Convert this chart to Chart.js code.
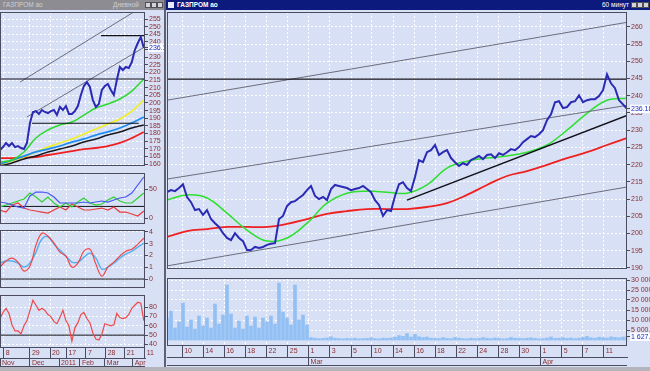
<!DOCTYPE html>
<html lang="ru">
<head>
<meta charset="UTF-8">
<title>ГАЗПРОМ ао - 60 минут</title>
<script src="https://cdn.jsdelivr.net/npm/chart.js"></script>
<style>
    body {
        margin: 0;
        width: 650px;
        height: 371px;
        overflow: hidden;
        position: relative;
        background: #b4b4bc;
        font-family: "Liberation Sans", Arial, sans-serif;
    }
    .panel { position: absolute; background: #d8e0f6; }
    .pane { position: absolute; }
    .pane canvas { display: block; }
    .title {
        position: absolute; top: 0; height: 10px;
        font-size: 6.5px; line-height: 10px; white-space: nowrap; overflow: hidden;
    }
    .title span { position: absolute; }
    .btn { top: 2px; width: 6px; height: 6px; background: #d4d4d8; border: 1px solid #505058; box-sizing: border-box; }
</style>
</head>
<body>
<div class="panel" style="left:0; top:10px; width:164px; height:357px;"></div>
<div class="panel" style="left:166px; top:10px; width:484px; height:357px;"></div>
<div style="position:absolute; left:164px; top:0; width:2px; height:367px; background:#606070;"></div>

<!-- title bars -->
<div class="title" style="left:0; width:164px; background:#8c8c92; color:#cfcfd4;">
    <span style="left:3px;">ГАЗПРОМ ао</span>
    <span style="left:113px;">Дневной</span>
    <span class="btn" style="left:145px;"></span>
    <span class="btn" style="left:151px;"></span>
    <span class="btn" style="left:157px;"></span>
</div>
<div class="title" style="left:166px; width:484px; background:#0c1a7e; color:#ffffff;">
    <span style="left:2px; top:2px; width:6px; height:6px; background:#e8ecff;"></span>
    <span style="left:11px; font-weight:bold;">ГАЗПРОМ ао</span>
    <span style="left:436px;">60 минут</span>
    <span class="btn" style="left:465px;"></span>
    <span class="btn" style="left:471px;"></span>
    <span class="btn" style="left:477px;"></span>
</div>

<div class="pane" style="left:0; top:11px;"><canvas id="dayPrice" width="164" height="157"></canvas></div>
<div class="pane" style="left:0; top:171px;"><canvas id="dayAdx" width="164" height="55"></canvas></div>
<div class="pane" style="left:0; top:228px;"><canvas id="dayMacd" width="164" height="62"></canvas></div>
<div class="pane" style="left:0; top:293px;"><canvas id="dayRsi" width="164" height="75"></canvas></div>
<div class="pane" style="left:165px; top:10px;"><canvas id="hourPrice" width="485" height="262"></canvas></div>
<div class="pane" style="left:165px; top:274px;"><canvas id="hourVolume" width="485" height="95"></canvas></div>

<script>
    // ---- left panel: daily bars, one step = about 3 px ----
    const dayTickIdx = [1.3, 10, 16.7, 22.2, 28.7, 35.3, 41.7, 48.3];
    const dayTickLabels = ['8', '29', '20', '17', '7', '28', '21', '11'];
    const dayMonthIdx = [0, 10, 19.7, 26.7, 35, 44.3];
    const dayMonthLabels = ['Nov', 'Dec', '2011', 'Feb', 'Mar', 'Apr'];

    const dayClose = [169.2, 171.1, 173.8, 171.8, 173.8, 171.1, 171.8, 170.5, 169.8, 173.8,
        186.9, 194.1, 194.7, 192.8, 195.4, 194.1, 193.4, 194.7, 195.4, 192.1,
        197.4, 195.4, 198.0, 192.8, 192.8, 194.7, 198.0, 205.2, 211.1, 213.7,
        210.5, 201.9, 197.4, 199.3, 208.5, 211.1, 212.4, 208.5, 205.2, 215.0,
        223.6, 221.6, 223.6, 222.9, 226.8, 234.7, 239.3, 243.2, 236.2];
    const dayLast = 236.18;

    // moving averages, every 4th step
    const dayMaIdx = [0, 4, 8, 12, 16, 20, 24, 28, 32, 36, 40, 44, 48];
    const dayGreen = [161.3, 162.6, 167.9, 177.0, 182.3, 185.6, 187.5, 192.1, 196.7, 199.3, 202.6, 207.8, 215.7];
    const dayYellow = [159.3, 162.0, 164.6, 167.9, 171.1, 173.8, 176.4, 179.7, 182.9, 186.2, 189.5, 194.7, 201.9];
    const dayBlue = [160.0, 162.6, 165.2, 167.9, 169.8, 171.8, 174.4, 176.4, 179.0, 181.0, 183.6, 186.9, 190.8];
    const dayBlack = [158.7, 160.7, 163.3, 165.2, 167.9, 169.8, 171.8, 174.4, 176.4, 179.0, 181.0, 183.6, 185.6];
    const dayRed = [163.9, 163.9, 164.3, 164.6, 165.9, 167.2, 168.5, 169.8, 170.5, 171.8, 173.8, 177.0, 181.0];

    // drawn lines on the daily chart
    const dayUpperIdx = [6.7, 44.3];
    const dayUpper = [213.7, 259.2];
    const dayLowerIdx = [9, 48.3];
    const dayLower = [190.8, 236.7];
    const dayLevelAIdx = [0, 48.4];
    const dayLevelA = [215.7, 215.7];
    const dayLevelBIdx = [33.7, 48.4];
    const dayLevelB = [244.1, 244.1];
    const dayLevelCIdx = [10.7, 46.3];
    const dayLevelC = [186.7, 186.7];

    // oscillators, every 2nd step
    const adxBlue = [27.6, 25.9, 22.4, 19.0, 17.2, 37.9, 44.8, 44.8, 43.1, 36.2, 25.9, 25.9, 25.9,
        25.9, 27.6, 25.9, 27.6, 29.3, 27.6, 31.0, 34.5, 36.2, 43.1, 56.9, 70.7];
    const adxGreen = [19.0, 22.4, 25.9, 29.3, 32.8, 43.1, 36.2, 27.6, 36.2, 25.9, 19.0, 25.9, 19.0,
        27.6, 34.5, 25.9, 22.4, 24.1, 31.0, 36.2, 29.3, 25.9, 25.9, 34.5, 43.1];
    const adxRed = [13.8, 10.3, 22.4, 25.9, 17.2, 13.8, 12.1, 10.3, 8.6, 13.8, 19.0, 13.8, 24.1,
        19.0, 13.8, 13.8, 15.5, 17.2, 13.8, 19.0, 10.3, 10.3, 6.9, 3.4, 12.1];
    const adxLevel = 20;

    const macdRed = [1.02, 1.53, 1.78, 1.44, 0.68, 1.10, 2.88, 3.90, 3.64, 3.05, 2.29, 1.95, 1.02,
        1.36, 2.37, 2.54, 1.27, 0.25, 1.02, 1.44, 1.95, 2.37, 2.54, 2.97, 3.47];
    const macdBlue = [1.36, 1.53, 1.53, 1.36, 1.02, 1.36, 2.29, 3.40, 3.60, 2.97, 2.46, 1.95, 1.44,
        1.44, 1.86, 2.20, 1.78, 0.85, 1.02, 1.36, 1.78, 2.12, 2.37, 2.71, 3.05];

    const rsi = [67.7, 74.2, 78.6, 73.1, 61.1, 54.5, 54.5, 51.3, 60.0, 65.5,
        76.4, 87.3, 81.9, 76.4, 78.6, 76.4, 72.0, 69.8, 64.4, 62.2,
        68.7, 76.4, 65.5, 60.0, 43.6, 57.8, 63.3, 72.0, 74.2, 67.7,
        63.3, 52.3, 45.8, 44.7, 51.3, 62.2, 61.1, 60.0, 61.1, 73.1,
        68.7, 67.7, 68.7, 72.0, 78.6, 81.9, 85.1, 84.0, 65.5];
    const rsiLevel = 50;

    const dayPriceTicks = [160, 165, 170, 175, 180, 185, 190, 195, 200, 205, 210, 215, 220, 225,
        230, 235, 240, 245, 250, 255];
    const adxTicks = [0, 50];
    const macdTicks = [0, 1, 2, 3, 4];
    const rsiTicks = [40, 50, 60, 70, 80];

    // ---- right panel: 60 minute bars, one step = about 4 px ----
    const hourTickIdx = [3.8, 9.1, 14.3, 19.6, 24.9, 30.2, 35.4, 40.7, 46.0, 51.2, 56.5,
        61.8, 67.0, 72.3, 77.6, 82.9, 88.1, 93.4, 98.7, 103.9, 109.2];
    const hourTickLabels = ['10', '14', '16', '18', '22', '25', '1', '3', '5', '10', '14',
        '16', '18', '22', '24', '28', '30', '1', '5', '7', '11'];
    const hourMonthIdx = [35.4, 93.4];
    const hourMonthLabels = ['Mar', 'Apr'];

    const hourClose = [212.0, 212.6, 212.3, 213.2, 214.3, 210.6, 209.1, 206.8, 207.1, 205.4,
        206.8, 204.2, 203.0, 201.9, 200.1, 198.7, 198.1, 200.1, 198.7, 197.8,
        195.2, 195.2, 196.1, 195.8, 196.1, 196.7, 197.0, 197.2, 204.2, 205.1,
        208.0, 209.1, 209.4, 210.3, 211.2, 212.6, 213.8, 210.9, 210.0, 210.6,
        209.7, 212.9, 214.1, 213.8, 213.5, 213.2, 212.6, 212.9, 213.2, 213.8,
        212.9, 212.0, 209.7, 208.3, 205.1, 206.8, 206.5, 210.9, 214.3, 214.9,
        213.2, 212.3, 216.4, 221.3, 220.7, 223.6, 224.2, 225.7, 222.8, 223.6,
        224.2, 221.9, 220.7, 219.6, 220.4, 219.9, 221.3, 221.9, 222.5, 221.6,
        222.8, 223.0, 221.9, 223.3, 222.8, 223.6, 224.5, 224.2, 225.1, 226.5,
        227.4, 228.3, 228.0, 228.8, 230.0, 232.9, 234.6, 238.1, 238.4, 236.4,
        236.7, 238.1, 238.4, 240.1, 238.1, 238.7, 239.0, 239.0, 239.9, 241.6,
        246.2, 243.6, 242.2, 238.7, 237.5, 236.2];
    const hourLast = 236.18;

    const hourMaIdx = [0, 5, 10, 15, 20, 25, 30, 35, 40, 45, 50, 55, 60, 65, 70, 75, 80, 85,
        90, 95, 100, 105, 110, 115];
    const hourGreen = [209.7, 211.2, 210.3, 205.9, 201.0, 197.8, 198.7, 203.0, 208.8, 211.7, 212.3, 212.0,
        211.7, 214.1, 219.0, 221.0, 221.9, 222.5, 223.6, 225.7, 230.0, 234.9, 238.7, 239.3];
    const hourRed = [199.0, 200.7, 201.3, 201.9, 201.9, 201.9, 202.8, 204.2, 205.7, 206.5, 207.1, 207.1,
        207.1, 207.7, 208.8, 211.2, 214.1, 216.7, 218.1, 219.9, 221.9, 223.6, 225.7, 227.7];

    const hourLineIdx = [0, 115];
    const channelTop = [238.7, 261.3];
    const channelMid = [215.8, 237.2];
    const channelLow = [190.6, 213.5];
    const level245 = [244.8, 244.8];
    const supportIdx = [60, 115];
    const supportLine = [209.7, 234.3];

    const hourVolume = [11000, 14500, 6000, 9000, 18500, 6500, 10000, 5500, 12000, 7000,
        11000, 6000, 18000, 8000, 12500, 27500, 13000, 6000, 9500, 5500,
        12000, 7000, 11500, 6000, 11000, 9000, 12000, 8000, 28500, 14000,
        11000, 7500, 27500, 10000, 12500, 7500, 1200,
        900, 700, 800, 1000, 1600, 900, 700, 600, 800, 700, 900, 600, 700, 800, 1100, 700, 600, 900, 800, 1000, 1400,
        2200, 1800, 3200, 1500, 2800, 1600, 1200, 1500, 900, 800, 700, 1200, 800, 700, 1300, 900, 700, 600, 900, 700,
        800, 1200, 900, 700, 1000, 800, 600, 700, 1300, 900, 800, 700, 900, 1100, 800, 600, 700, 1000, 1500, 800,
        900, 1200, 800, 1000, 700, 900, 1300, 1800, 1100, 900, 1400, 1200, 1000, 1600, 1300, 1100, 1500, 1627.5];
    const volumeLast = 1627.5;

    const hourPriceTicks = [190, 195, 200, 205, 210, 215, 220, 225, 230, 235, 240, 245, 250, 255, 260];
    const volumeTicks = [5000, 10000, 15000, 20000, 25000, 30000];

    // ---- styling ----
    Chart.defaults.font.family = '"Liberation Sans", Arial, sans-serif';
    Chart.defaults.font.size = 7;

    const GRID = '#ffffff';
    const TICK_MARK = '#4c4c60';
    const LABEL = '#8c2c2c';
    const LAST = '#1c2cc8';
    const NONE = 'rgba(0,0,0,0)';

    // plot frame round the chart area, plus the line under the month row
    const framePlugin = {
        id: 'frame',
        afterDraw(chart) {
            const { ctx, chartArea: a } = chart;
            ctx.save();
            ctx.strokeStyle = TICK_MARK;
            ctx.lineWidth = 1;
            ctx.strokeRect(a.left + 0.5, a.top + 0.5, a.right - a.left - 1, a.bottom - a.top - 1);
            const x2 = chart.scales.x2;
            if (x2) {
                ctx.beginPath();
                ctx.moveTo(a.left, x2.bottom - 0.5);
                ctx.lineTo(a.right, x2.bottom - 0.5);
                ctx.stroke();
            }
            ctx.restore();
        }
    };

    const fixAxis = size => s => {
        if (s.isHorizontal()) s.height = size; else s.width = size;
        s.paddingTop = s.paddingBottom = s.paddingLeft = s.paddingRight = 0;
    };

    const points = (xs, ys) => ys.map((v, i) => ({ x: xs[i], y: v }));
    const steps = (n, step) => Array.from({ length: n }, (_, i) => i * step);

    function line(xs, ys, color, width, smooth) {
        return {
            data: points(xs, ys), borderColor: color, borderWidth: width,
            pointRadius: 0, fill: false, tension: smooth ? 0.4 : 0
        };
    }

    function valueAxis(min, max, values, width, last, lastText, fmt) {
        const all = last == null ? values : values.concat([last]);
        const isLast = c => last != null && c.tick && c.tick.value === last;
        return {
            type: 'linear', position: 'right', min, max,
            afterBuildTicks: s => { s.ticks = all.map(v => ({ value: v })); },
            afterFit: fixAxis(width),
            border: { display: false, dash: [2, 2] },
            grid: { color: c => isLast(c) ? NONE : GRID, tickLength: 3, tickColor: TICK_MARK },
            ticks: {
                autoSkip: false,
                padding: 1,
                color: c => isLast(c) ? LAST : LABEL,
                showLabelBackdrop: c => isLast(c),
                backdropColor: '#fbfcff',
                backdropPadding: { top: 0, bottom: 0, left: 1, right: 3 },
                callback: v => v === last ? lastText : (fmt ? fmt(v) : String(v))
            }
        };
    }

    function gridAxis(min, max, idx) {
        return {
            type: 'linear', position: 'bottom', min, max, offset: false,
            afterBuildTicks: s => { s.ticks = idx.map(v => ({ value: v })); },
            afterFit: fixAxis(0),
            border: { display: false, dash: [2, 2] },
            grid: { color: GRID, drawTicks: false, offset: false },
            ticks: { display: false }
        };
    }

    function labelAxis(min, max, idx, labels, height, onArea) {
        return {
            type: 'linear', position: 'bottom', min, max, offset: false,
            afterBuildTicks: s => { s.ticks = idx.map(v => ({ value: v })); },
            afterFit: fixAxis(height),
            border: { display: !onArea, color: TICK_MARK, dash: [2, 2] },
            grid: {
                color: onArea ? GRID : NONE, drawOnChartArea: onArea, offset: false,
                tickLength: height, tickColor: TICK_MARK
            },
            ticks: {
                autoSkip: false, maxRotation: 0, minRotation: 0, align: 'start',
                padding: 1 - height, color: LABEL,
                callback: (v, i) => ' ' + labels[i]
            }
        };
    }

    function makeChart(id, datasets, scales, padding, type) {
        return new Chart(document.getElementById(id), {
            type: type || 'line',
            data: { datasets: datasets },
            options: {
                responsive: false,
                animation: false,
                events: [],
                layout: { padding: padding },
                plugins: { legend: { display: false }, tooltip: { enabled: false } },
                scales: scales
            },
            plugins: [framePlugin]
        });
    }

    const DAY_MAX = 48.4;
    const dayIdx = steps(dayClose.length, 1);
    const oscIdx = steps(adxBlue.length, 2);
    const hourIdx = steps(hourClose.length, 1);

    // daily price
    makeChart('dayPrice', [
        line(dayIdx, dayClose, '#2a2ab4', 2),
        line(dayLevelAIdx, dayLevelA, '#101018', 1.2),
        line(dayLevelBIdx, dayLevelB, '#101018', 1.2),
        line(dayLevelCIdx, dayLevelC, '#101018', 1.2),
        line(dayUpperIdx, dayUpper, '#6c6c7c', 1),
        line(dayLowerIdx, dayLower, '#6c6c7c', 1),
        line(dayMaIdx, dayGreen, '#2ed82e', 1.5, true),
        line(dayMaIdx, dayBlack, '#181820', 1.5, true),
        line(dayMaIdx, dayBlue, '#1e8cf0', 1.8, true),
        line(dayMaIdx, dayYellow, '#f2f020', 1.5, true),
        line(dayMaIdx, dayRed, '#ee2020', 1.8, true)
    ], {
        x: gridAxis(0, DAY_MAX, dayTickIdx),
        y: valueAxis(158.7, 259.6, dayPriceTicks, 19, dayLast, '236.18')
    }, { top: 1, bottom: 2, left: 0, right: 0 });

    // daily directional movement
    makeChart('dayAdx', [
        line(oscIdx, adxBlue, '#4858f0', 1.2),
        line(oscIdx, adxGreen, '#2ed02e', 1.2),
        line(oscIdx, adxRed, '#e83c3c', 1.2),
        line([0, DAY_MAX], [adxLevel, adxLevel], '#101018', 1)
    ], {
        x: gridAxis(0, DAY_MAX, dayTickIdx),
        y: valueAxis(-10.3, 77.6, adxTicks, 19)
    }, { top: 2, bottom: 2, left: 0, right: 0 });

    // daily MACD
    makeChart('dayMacd', [
        line(oscIdx, macdRed, '#f04848', 1.2, true),
        line(oscIdx, macdBlue, '#58b0f0', 1.5, true),
        line([0, DAY_MAX], [0, 0], '#101018', 1)
    ], {
        x: gridAxis(0, DAY_MAX, dayTickIdx),
        y: valueAxis(-0.76, 4.17, macdTicks, 19)
    }, { top: 2, bottom: 2, left: 0, right: 0 });

    // daily RSI with the date rows
    makeChart('dayRsi', [
        line(dayIdx, rsi, '#f04848', 1.2),
        line([0, DAY_MAX], [rsiLevel, rsiLevel], '#101018', 1)
    ], {
        x: labelAxis(0, DAY_MAX, dayTickIdx, dayTickLabels, 10, true),
        x2: labelAxis(0, DAY_MAX, dayMonthIdx, dayMonthLabels, 9, false),
        y: valueAxis(36.3, 92.8, rsiTicks, 19)
    }, { top: 2, bottom: 1, left: 0, right: 0 });

    // hourly price
    makeChart('hourPrice', [
        line(hourIdx, hourClose, '#2a2ab4', 2),
        line(hourLineIdx, level245, '#101018', 1.2),
        line(supportIdx, supportLine, '#101018', 1.5),
        line(hourLineIdx, channelTop, '#6c6c7c', 1),
        line(hourLineIdx, channelMid, '#6c6c7c', 1),
        line(hourLineIdx, channelLow, '#6c6c7c', 1),
        line(hourMaIdx, hourGreen, '#2ee02e', 1.5, true),
        line(hourMaIdx, hourRed, '#ee2020', 1.8, true)
    ], {
        x: gridAxis(0, 115, hourTickIdx),
        y: valueAxis(189.7, 264.3, hourPriceTicks, 23, hourLast, '236.18')
    }, { top: 2, bottom: 3, left: 2, right: 0 });

    // hourly volume with the date rows
    const volFmt = v => v.toFixed(2).replace(/\B(?=(\d{3})+(?!\d))/g, ' ');
    makeChart('hourVolume', [{
        type: 'bar',
        data: points(hourIdx, hourVolume),
        backgroundColor: '#92c0f4',
        barThickness: 3
    }], {
        x: labelAxis(0, 115, hourTickIdx, hourTickLabels, 11, true),
        x2: labelAxis(0, 115, hourMonthIdx, hourMonthLabels, 9, false),
        y: valueAxis(-3000, 31000, volumeTicks, 23, volumeLast, '1 627.50', volFmt)
    }, { top: 4, bottom: 3, left: 2, right: 0 }, 'bar');
</script>
</body>
</html>
